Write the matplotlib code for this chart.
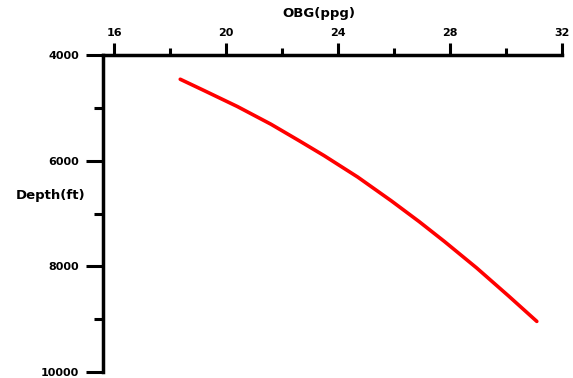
import matplotlib
matplotlib.use("Agg")
import matplotlib.pyplot as plt
from matplotlib.ticker import MultipleLocator

# OBG curve
depth = [4459, 4670, 4975, 5310, 5620, 5905, 6310, 6760, 7155, 7530, 8030, 8565, 9042]
obg = [18.36, 19.2, 20.4, 21.6, 22.6, 23.5, 24.7, 25.9, 26.9, 27.8, 28.95, 30.1, 31.1]

x_ticks = [16, 20, 24, 28, 32]
y_ticks = [4000, 6000, 8000, 10000]

plt.rcParams["font.family"] = ["DejaVu Sans"]
plt.rcParams["font.weight"] = "bold"

fig = plt.figure(figsize=(5.73, 3.78), dpi=100)
ax = fig.add_axes([103 / 573, 1 - 372 / 378, (562 - 103) / 573, (372 - 55) / 378])

ax.plot(obg, depth, color="red", lw=2.6, solid_capstyle="round", solid_joinstyle="round")

ax.set_xlim(15.6, 32.0)
ax.set_ylim(10000, 4000)

for s in ["right", "bottom"]:
    ax.spines[s].set_visible(False)
for s in ["left", "top"]:
    ax.spines[s].set_linewidth(2.5)

ax.xaxis.set_ticks_position("top")
ax.xaxis.set_label_position("top")
ax.set_xticks(x_ticks)
ax.xaxis.set_minor_locator(MultipleLocator(2))
ax.set_yticks(y_ticks)
ax.yaxis.set_minor_locator(MultipleLocator(1000))

ax.tick_params(axis="x", which="major", direction="out", length=8.5, width=2.2, pad=4, labelsize=8)
ax.tick_params(axis="x", which="minor", direction="out", length=5, width=2.2)
ax.tick_params(axis="y", which="major", direction="out", length=12, width=2.2, pad=5, labelsize=8)
ax.tick_params(axis="y", which="minor", direction="out", length=6.5, width=2.2)

for lab in ax.get_xticklabels() + ax.get_yticklabels():
    lab.set_fontweight("bold")

fig.text(319 / 573, 1 - 13 / 378, "OBG(ppg)", ha="center", va="center", fontsize=9.5, fontweight="bold")
fig.text(85 / 573, 1 - 196 / 378, "Depth(ft)", ha="right", va="center", fontsize=9.5, fontweight="bold")

fig.savefig("out.png", dpi=100)
